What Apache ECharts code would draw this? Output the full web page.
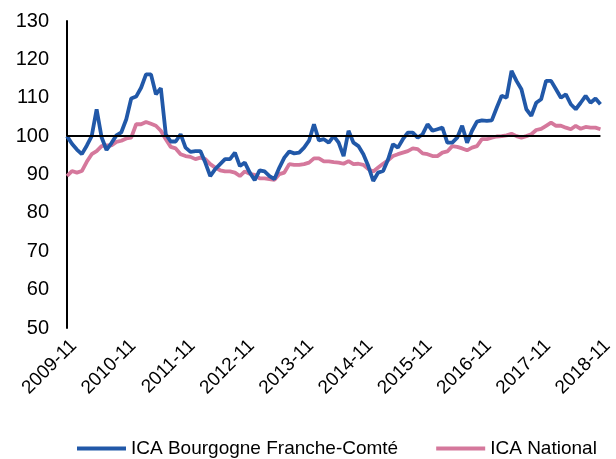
<!DOCTYPE html>
<html><head><meta charset="utf-8">
<script src="https://cdn.jsdelivr.net/npm/echarts@6/dist/echarts.min.js"></script>
<style>html,body{margin:0;padding:0;background:#fff}#c{width:616px;height:459px}</style>
</head><body><div id="c"></div>
<script>
const startYear = 2009, startMonth = 11, nMonths = 109;
const categories = [];
for (let k = 0; k < nMonths; k++) {
  const m0 = startMonth - 1 + k;
  const y = startYear + Math.floor(m0 / 12);
  const m = (m0 % 12) + 1;
  categories.push(y + '-' + (m < 10 ? '0' + m : '' + m));
}
const seriesNames = ['ICA Bourgogne Franche-Comté', 'ICA National'];
const bfcValues = [
  100, 98, 96.5, 95.3, 97.5, 100, 107, 99.7, 96.4, 98.2, 100.2, 101,
  104.4, 109.8, 110.3, 112.6, 116.1, 116.1, 110.9, 112.5, 100.5, 98.6, 98.6, 100.5,
  97, 95.9, 96.1, 96.1, 93.1, 89.6, 91.4, 92.7, 94, 94, 95.7, 92.2,
  93.1, 90.5, 88.5, 91.1, 90.8, 89.6, 88.8, 91.8, 94.4, 96, 95.5, 95.7,
  97, 98.8, 103.1, 98.9, 99.2, 98.3, 100, 98.3, 94.8, 101.4, 98.3, 97.4,
  95.3, 92.2, 88.3, 90.5, 90.9, 93.9, 97.9, 97, 99.2, 100.9, 100.9, 99.6,
  100.5, 103.1, 101.4, 101.8, 102.2, 98.3, 98.3, 99.6, 102.7, 98.3, 101.4, 103.8,
  104.1, 104, 104.1, 107.4, 110.5, 110, 117, 114.4, 112.2, 107, 105.3, 108.7,
  109.6, 114.4, 114.4, 112.2, 110, 110.9, 108.3, 107, 108.7, 110.5, 108.7, 109.8,
  108.3
];
const nationalValues = [
  89.6, 90.9, 90.5, 90.9, 93.3, 95.3, 96.1, 97.4, 97.6, 97.6, 98.5, 98.8,
  99.4, 99.6, 103.1, 103.1, 103.7, 103.2, 102.7, 101.4, 99.2, 97.2, 96.8, 95.3,
  94.8, 94.6, 94, 94.4, 94, 92.7, 91.8, 91.1, 90.8, 90.8, 90.5, 89.6,
  90.8, 90.2, 89.9, 89, 89, 88.8, 88.6, 90.1, 90.5, 92.7, 92.5, 92.5,
  92.7, 93.1, 94.2, 94.2, 93.4, 93.4, 93.2, 93.1, 92.8, 93.5, 92.7, 92.8,
  92.5, 91.4, 90.8, 91.8, 92.8, 93.7, 94.8, 95.3, 95.7, 96.1, 96.8, 96.6,
  95.5, 95.3, 94.8, 94.8, 95.7, 96, 97.4, 97.2, 96.8, 96.3, 97, 97.4,
  99.2, 99.2, 99.6, 99.9, 100, 100.2, 100.6, 100, 99.6, 100, 100.5, 101.6,
  101.9, 102.7, 103.5, 102.7, 102.7, 102.2, 101.8, 102.7, 101.9, 102.4, 102.2, 102.2,
  101.8
];
const yMin = 50, yMax = 130, yStep = 10, refLevel = 100;

const chart = echarts.init(document.getElementById('c'), null, {renderer: 'canvas'});
const font = '"Liberation Sans", Arial, sans-serif';
chart.setOption({
  animation: false,
  backgroundColor: '#ffffff',
  textStyle: {fontFamily: font},
  grid: {left: 67, right: 2, top: 21, bottom: 131, containLabel: false},
  legend: {
    data: [seriesNames[0], seriesNames[1]],
    left: 72, top: 434,
    icon: 'rect', itemWidth: 49, itemHeight: 4, itemGap: 38,
    textStyle: {fontFamily: font, fontSize: 19, color: '#000'}
  },
  xAxis: {
    type: 'category', data: categories, boundaryGap: false,
    axisLine: {show: false}, axisTick: {show: false},
    axisLabel: {
      interval: 11, rotate: 45, margin: 8, verticalAlign: 'top',
      fontSize: 19, color: '#000', fontFamily: font
    },
    splitLine: {show: false}
  },
  yAxis: {
    type: 'value', min: yMin, max: yMax, interval: yStep,
    axisLine: {show: true, lineStyle: {color: '#000', width: 2}},
    axisTick: {show: false},
    splitLine: {show: false},
    axisLabel: {fontSize: 20, color: '#000', margin: 18, fontFamily: font}
  },
  series: [
    {
      name: seriesNames[1], type: 'line', data: nationalValues,
      showSymbol: false, symbol: 'none',
      lineStyle: {color: '#D5789C', width: 3.8}, itemStyle: {color: '#D5789C'},
      z: 2
    },
    {
      name: seriesNames[0], type: 'line', data: bfcValues,
      showSymbol: false, symbol: 'none',
      lineStyle: {color: '#2158A8', width: 3.8}, itemStyle: {color: '#2158A8'},
      z: 3,
      markLine: {
        silent: true, symbol: 'none', label: {show: false},
        lineStyle: {color: '#000', width: 2, type: 'solid'},
        data: [{yAxis: refLevel}]
      }
    }
  ]
});
</script></body></html>
